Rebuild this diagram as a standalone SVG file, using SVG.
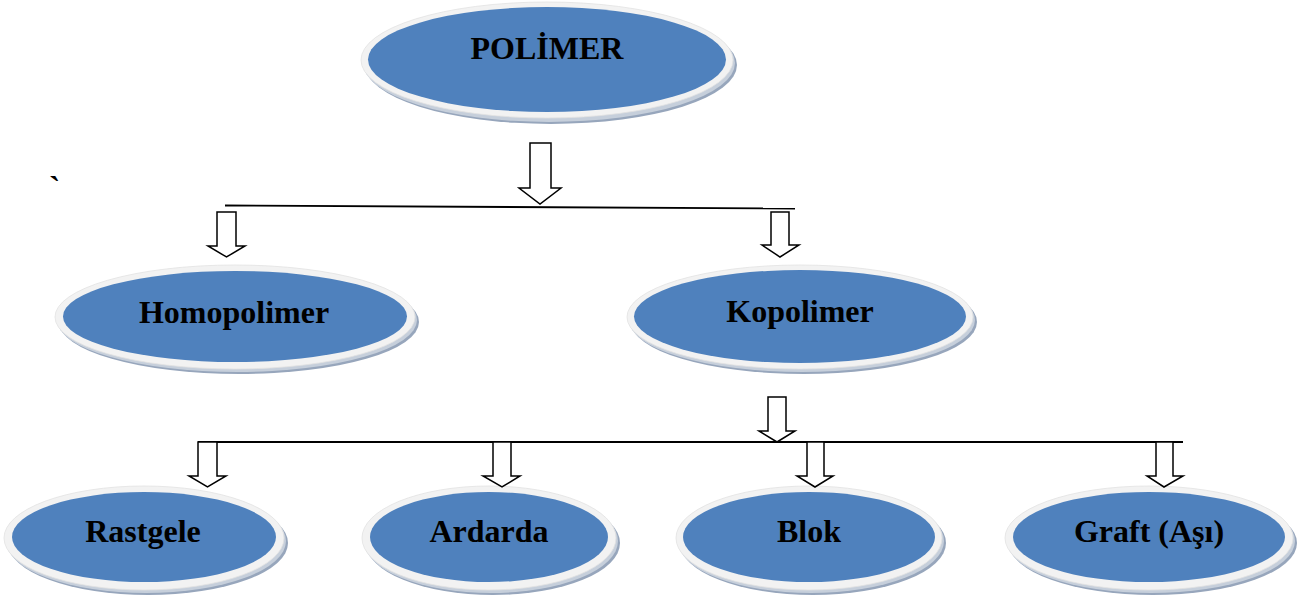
<svg xmlns="http://www.w3.org/2000/svg" width="1303" height="598" viewBox="0 0 1303 598">
<style>
  .sh2 { fill: #97A6BC; }
  .sh1 { fill: #C6CFDB; }
  .rim { fill: #F2F2F2; stroke: #E2E2E2; stroke-width: 0.8; }
  .blue { fill: #4F81BD; }
  .lbl { font-family: "Liberation Serif", "Times New Roman", serif; font-weight: bold; font-size: 32px; fill: #000; text-anchor: middle; }
  .arr { fill: #FFFFFF; stroke: #000; stroke-width: 1.5; stroke-linejoin: miter; }
  .ln { stroke: #000; stroke-width: 1.8; fill: none; }
</style>
<rect width="1303" height="598" fill="#FFFFFF"/>

<text x="49" y="200" font-family="Liberation Serif, serif" font-weight="bold" font-size="34px" fill="#000">`</text>

<g id="polimer">
  <ellipse class="sh2" cx="551" cy="65" rx="186" ry="59"/>
  <ellipse class="sh1" cx="549" cy="63" rx="186" ry="59"/>
  <ellipse class="rim" cx="547" cy="60" rx="186" ry="58"/>
  <ellipse class="blue" cx="547" cy="59.5" rx="179" ry="52.5"/>
  <text class="lbl" x="547" y="59">POLİMER</text>
</g>

<g id="homopolimer">
  <ellipse class="sh2" cx="239" cy="322" rx="180" ry="52"/>
  <ellipse class="sh1" cx="237" cy="320" rx="180" ry="52"/>
  <ellipse class="rim" cx="235" cy="317" rx="180" ry="52"/>
  <ellipse class="blue" cx="235" cy="316.5" rx="172" ry="45.5"/>
  <text class="lbl" x="234" y="323">Homopolimer</text>
</g>

<g id="kopolimer">
  <ellipse class="sh2" cx="804" cy="322" rx="173" ry="52"/>
  <ellipse class="sh1" cx="802" cy="320" rx="173" ry="52"/>
  <ellipse class="rim" cx="800" cy="317" rx="173" ry="52"/>
  <ellipse class="blue" cx="800" cy="316.5" rx="166" ry="46.5"/>
  <text class="lbl" x="800" y="322">Kopolimer</text>
</g>

<g id="rastgele">
  <ellipse class="sh2" cx="148" cy="543" rx="140" ry="52"/>
  <ellipse class="sh1" cx="146" cy="541" rx="140" ry="52"/>
  <ellipse class="rim" cx="144" cy="538" rx="140" ry="52"/>
  <ellipse class="blue" cx="144" cy="537" rx="132" ry="45"/>
  <text class="lbl" x="143" y="542">Rastgele</text>
</g>

<g id="ardarda">
  <ellipse class="sh2" cx="493" cy="543" rx="127" ry="52"/>
  <ellipse class="sh1" cx="491" cy="541" rx="127" ry="52"/>
  <ellipse class="rim" cx="489" cy="538" rx="127" ry="52"/>
  <ellipse class="blue" cx="489" cy="537" rx="119" ry="45"/>
  <text class="lbl" x="489" y="542">Ardarda</text>
</g>

<g id="blok">
  <ellipse class="sh2" cx="813" cy="543" rx="133" ry="52"/>
  <ellipse class="sh1" cx="811" cy="541" rx="133" ry="52"/>
  <ellipse class="rim" cx="809" cy="538" rx="133" ry="52"/>
  <ellipse class="blue" cx="809" cy="537" rx="126" ry="45"/>
  <text class="lbl" x="809" y="542">Blok</text>
</g>

<g id="graft">
  <ellipse class="sh2" cx="1153" cy="543" rx="144" ry="52"/>
  <ellipse class="sh1" cx="1151" cy="541" rx="144" ry="52"/>
  <ellipse class="rim" cx="1149" cy="538" rx="144" ry="52"/>
  <ellipse class="blue" cx="1149" cy="537" rx="136" ry="45"/>
  <text class="lbl" x="1149" y="542">Graft (Aşı)</text>
</g>

<g id="connectors">
  <line class="ln" x1="225" y1="205.5" x2="795" y2="208.5"/>
  <line class="ln" x1="198" y1="442" x2="1183" y2="442"/>
  <polygon class="arr" points="530,143 551,143 551,188 561,188 540,204 519,188 530,188"/>
  <polygon class="arr" points="217,212 236,212 236,246 245,246 226.5,257 208,246 217,246"/>
  <polygon class="arr" points="771,212 789,212 789,245 799,245 780,257 762,245 771,245"/>
  <polygon class="arr" points="768,397 786,397 786,431 795,431 777,442 759,431 768,431"/>
  <polygon class="arr" points="198,442 217,442 217,476 226,476 207.5,487 189,476 198,476"/>
  <polygon class="arr" points="493,442 511,442 511,476 520,476 502,487 483,476 493,476"/>
  <polygon class="arr" points="807,442 824,442 824,476 833,476 815,487 797,476 807,476"/>
  <polygon class="arr" points="1156,442 1173,442 1173,476 1183,476 1164,487 1147,476 1156,476"/>
</g>
</svg>
